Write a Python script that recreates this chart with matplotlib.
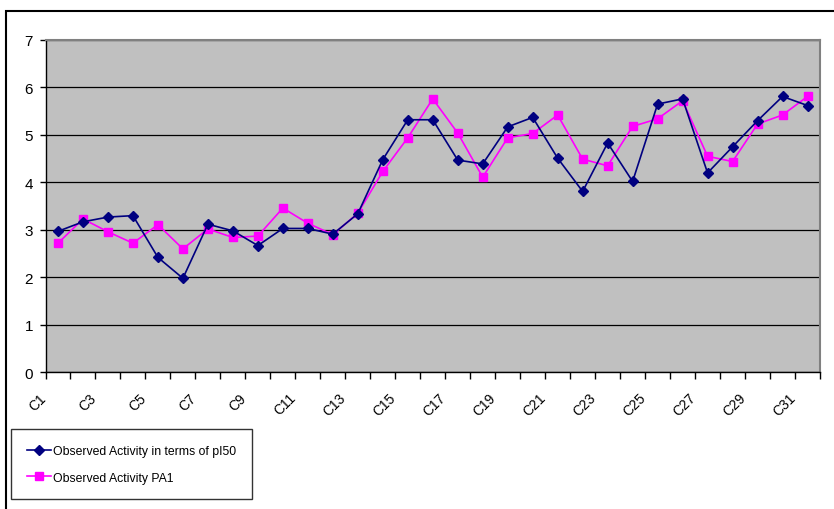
import numpy as np
import matplotlib
matplotlib.use("Agg")
from matplotlib import pyplot as plt
from matplotlib import transforms
from matplotlib.patches import Rectangle

categories = ["C%d" % i for i in range(1, 32)]
observed_pi50 = [2.97, 3.17, 3.27, 3.30, 2.42, 1.98, 3.12, 2.98, 2.67, 3.03,
                 3.03, 2.91, 3.34, 4.48, 5.32, 5.32, 4.47, 4.39, 5.17, 5.37,
                 4.51, 3.81, 4.83, 4.02, 5.65, 5.76, 4.20, 4.75, 5.30, 5.81,
                 5.62]
observed_pa1 = [2.72, 3.23, 2.96, 2.72, 3.11, 2.60, 3.02, 2.84, 2.87, 3.46,
                3.14, 2.90, 3.35, 4.23, 4.94, 5.76, 5.04, 4.11, 4.94, 5.03,
                5.42, 4.49, 4.35, 5.18, 5.34, 5.72, 4.55, 4.44, 5.23, 5.42,
                5.81]
series_names = ["Observed Activity in terms of pI50", "Observed Activity PA1"]

plt.rcParams['font.family'] = ['Liberation Sans', 'DejaVu Sans']

W, H = 834, 510
fig = plt.figure(figsize=(W/100, H/100), dpi=100)
ax = fig.add_axes([45.5/W, 1-373.3/H, (820-45.5)/W, (373.3-41)/H])
ax.set_facecolor('#c0c0c0')

x = np.arange(1, len(categories)+1)
ax.plot(x, observed_pi50, color='#000080', lw=1.2, marker='D', markersize=5.5,
        label=series_names[0], zorder=3)
ax.plot(x, observed_pa1, color='#ff00ff', lw=1.2, marker='s', markersize=6,
        label=series_names[1], zorder=2)

ax.set_xlim(0.5, len(categories)+0.5)
ax.set_ylim(0, 7)
ax.set_yticks(range(0, 8))
ax.tick_params(axis='y', direction='out', length=4, width=1, labelsize=11, pad=5)
ax.yaxis.grid(True, color='black', lw=0.9)
ax.set_axisbelow(True)

# ticks on category boundaries, labels on every other category
ax.set_xticks(np.arange(0.5, len(categories)+1, 1))
ax.set_xticklabels([])
ax.set_xticks(x[::2], minor=True)
ax.set_xticklabels(categories[::2], minor=True, rotation=45, ha='right',
                   va='top', rotation_mode='anchor', fontsize=10)
ax.tick_params(axis='x', which='major', direction='out', length=5, width=1)
ax.tick_params(axis='x', which='minor', length=0, pad=13)
off = transforms.ScaledTranslation(-19/100, 0, fig.dpi_scale_trans)
for lab in ax.get_xticklabels(minor=True):
    lab.set_transform(lab.get_transform() + off)

for s in ['top', 'right']:
    ax.spines[s].set_color('#808080')
    ax.spines[s].set_linewidth(1.5)
for s in ['left', 'bottom']:
    ax.spines[s].set_color('black')
    ax.spines[s].set_linewidth(1)

leg = ax.legend(loc='upper left', bbox_to_anchor=(11/W, 1-430/H),
                bbox_transform=fig.transFigure, fontsize=8.8, frameon=True,
                fancybox=False, edgecolor='black', handlelength=2.0,
                handletextpad=0.15, borderpad=1.3, labelspacing=1.2,
                borderaxespad=0)
leg.get_frame().set_linewidth(1)

# outer chart border
fig.patches.append(Rectangle((6/W, -0.1), 1.0, 1-12/H+0.1, transform=fig.transFigure,
                             fill=False, edgecolor='black', lw=1.5))

fig.savefig("out.png", dpi=100)
